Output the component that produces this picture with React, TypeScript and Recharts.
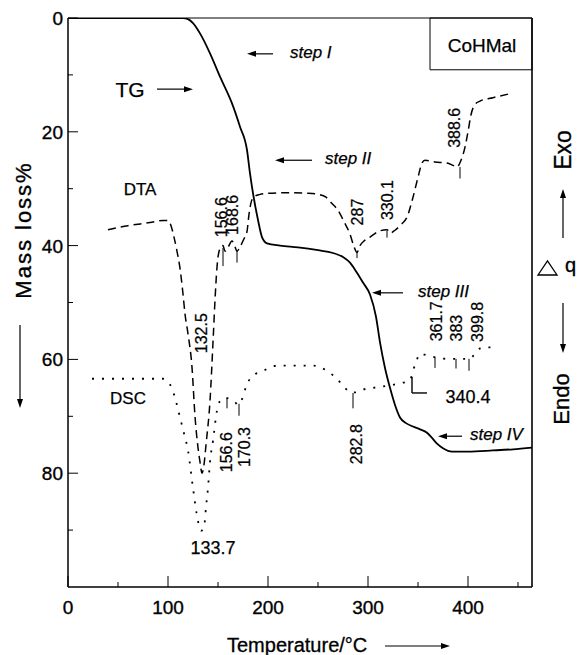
import React from 'react';
import { ComposedChart, Line, XAxis, YAxis, ReferenceLine, ReferenceDot, ReferenceArea } from 'recharts';

const FONT = '"Liberation Sans", Arial, Helvetica, sans-serif';

// TG curve: temperature (°C) and mass loss (%)
const tgTemp = [0, 50, 100, 115, 120, 125, 132, 142, 152, 164, 172, 179, 182, 185, 190, 194, 199, 212, 230, 250, 265, 275, 282, 288, 295, 302, 308, 312, 317, 322, 327, 332, 338, 345, 352, 359, 364, 369, 375, 384, 400, 425, 445, 464];
const tgMass = [0, 0, 0, 0, 0.2, 0.9, 2.7, 6.2, 10.3, 15, 19.1, 23.2, 27.3, 30.8, 35.5, 38.5, 39.6, 40, 40.3, 40.8, 41.3, 42, 43, 44.5, 46.5, 48.6, 52.5, 57, 61.5, 65, 68, 70.2, 71.2, 71.8, 72.3, 72.9, 73.8, 74.8, 75.6, 76.2, 76.2, 76, 75.8, 75.5];

// DTA trace (drawn in the same frame)
const dtaTemp = [40, 60, 80, 95, 100, 103, 106, 109, 112, 115, 117, 120, 124, 127, 130, 132, 134, 136, 138, 142, 145, 147, 149, 152, 155, 157, 160, 164, 167, 169, 172, 176, 179, 181, 183, 186, 192, 200, 220, 240, 250, 258, 264, 270, 276, 282, 286, 289, 292, 296, 302, 312, 319, 322, 327, 333, 339, 345, 350, 354, 357, 367, 379, 385, 389, 393, 397, 400, 403, 407, 412, 425, 442];
const dtaVal = [37.2, 36.5, 36, 35.6, 35.6, 36.5, 38.5, 41, 44, 48.5, 52, 55.5, 61.4, 70, 75.5, 78, 80, 78.5, 75, 67.3, 57, 49.6, 43.8, 40.5, 40, 41, 40.3, 39.2, 40.2, 41, 40.2, 38.8, 37.5, 34.5, 32.5, 31.4, 31, 30.8, 30.7, 30.8, 31, 31.5, 32.6, 33.8, 35.8, 38, 40.2, 41.2, 40, 39.2, 38.5, 37.4, 37.2, 37.8, 37.3, 36.3, 35, 31.5, 28, 25.5, 25, 25.3, 25.5, 25.9, 26.2, 25, 22.7, 20, 17, 15.2, 14.6, 14, 13.3];

// DSC trace
const dscTemp = [24, 50, 80, 95, 100, 104, 108, 112, 116, 120, 125, 130, 133, 136, 138, 140, 142, 145, 149, 152, 156, 159, 163, 167, 170, 172, 175, 178, 182, 188, 195, 209, 225, 245, 252, 259, 265, 272, 278, 282, 287, 295, 305, 320, 335, 342, 345, 348, 352, 359, 369, 380, 389, 402, 406, 409, 415, 429];
const dscVal = [63.4, 63.4, 63.4, 63.4, 64, 65.1, 67.4, 70.2, 73, 76, 82.6, 88.4, 90.1, 89.5, 86, 82.6, 78, 74.3, 69, 67.3, 66.8, 66.8, 67.1, 67.5, 68, 67.6, 66.6, 64.8, 63.4, 62.5, 62, 61.1, 61.1, 61.1, 61.4, 62, 62.8, 64, 65.2, 65.8, 65.8, 65.3, 65, 64.6, 64.1, 63.7, 62, 60.5, 59, 59.3, 59.7, 59.9, 59.9, 59.9, 59.2, 58.5, 57.9, 57.9];

const xTicks = [0, 50, 100, 150, 200, 250, 300, 350, 400, 450];
const xLabels = [0, 100, 200, 300, 400];
const yTicks = [0, 10, 20, 30, 40, 50, 60, 70, 80, 90];
const yLabels = [0, 20, 40, 60, 80];

// peak temperatures written beside the traces: label, anchor (t, y), marker segment
const peaks = [
  { label: '156.6', t: 154, y: 35.0, mark: [155, 40.4, 43.6] },
  { label: '168.6', t: 165, y: 34.6, mark: [169, 40.8, 43] },
  { label: '132.5', t: 134, y: 55.4, mark: null },
  { label: '287', t: 290, y: 34.1, mark: [289, 41, 42.2] },
  { label: '330.1', t: 320, y: 32.0, mark: [319, 37.4, 38.6] },
  { label: '388.6', t: 387, y: 19.3, mark: [392, 26.2, 28.2] },
  { label: '156.6', t: 159, y: 76.3, mark: [159, 66.8, 68.6] },
  { label: '170.3', t: 177, y: 75.4, mark: [171, 67.8, 69.9] },
  { label: '282.8', t: 289, y: 74.9, mark: [285, 65.9, 68.6] },
  { label: '361.7', t: 369, y: 53.3, mark: [367, 59.6, 61.5] },
  { label: '383', t: 389, y: 54.5, mark: [388, 59.9, 61.6] },
  { label: '399.8', t: 410, y: 53.4, mark: [401, 59.9, 62] },
];

// step annotations: text, arrow from/to temperature, level
const steps = [
  { label: 'step I', from: 205, to: 179, y: 6.3, tx: 222 },
  { label: 'step II', from: 244, to: 207, y: 25.0, tx: 257 },
  { label: 'step III', from: 335, to: 304, y: 48.3, tx: 350 },
  { label: 'step IV', from: 394, to: 370, y: 73.5, tx: 402 },
];

const zip = (ts: number[], vs: number[]) => ts.map((t, i) => ({ t, v: vs[i] }));
const tgData = zip(tgTemp, tgMass);
const dtaData = zip(dtaTemp, dtaVal);
const dscData = zip(dscTemp, dscVal);

const arrowShape = (p: any) => {
  const { x1, y1, x2, y2 } = p;
  const dx = x2 - x1, dy = y2 - y1;
  const len = Math.sqrt(dx * dx + dy * dy) || 1;
  const ux = dx / len, uy = dy / len;
  const hl = 9, hw = 3;
  const bx = x2 - ux * hl, by = y2 - uy * hl;
  return (
    <g>
      <line x1={x1} y1={y1} x2={bx} y2={by} stroke="#000" strokeWidth={1.2} />
      <polygon points={`${x2},${y2} ${bx - uy * hw},${by + ux * hw} ${bx + uy * hw},${by - ux * hw}`} fill="#000" />
    </g>
  );
};

const textShape = (text: string, size: number, opt: { rotate?: boolean; italic?: boolean; anchor?: string } = {}) => (p: any) => (
  <text
    x={p.cx}
    y={p.cy}
    transform={opt.rotate ? `rotate(-90 ${p.cx} ${p.cy})` : undefined}
    textAnchor={opt.anchor || 'middle'}
    dominantBaseline="central"
    fontSize={size}
    fontStyle={opt.italic ? 'italic' : 'normal'}
    fontFamily={FONT}
    fill="#000"
    stroke="#000"
    strokeWidth={0.25}
  >
    {text}
  </text>
);

const XTick = (props: any) => {
  const { x, y, payload } = props;
  const major = xLabels.includes(payload.value);
  return (
    <g>
      <line x1={x} y1={y} x2={x} y2={y - (major ? 11 : 5)} stroke="#000" />
      {major && (
        <text x={x} y={y + 27} textAnchor="middle" fontSize={19} fontFamily={FONT} fill="#000" stroke="#000" strokeWidth={0.35}>
          {payload.value}
        </text>
      )}
    </g>
  );
};

const YTick = (props: any) => {
  const { x, y, payload } = props;
  const major = yLabels.includes(payload.value);
  return (
    <g>
      <line x1={x} y1={y} x2={x + (major ? 10 : 5)} y2={y} stroke="#000" />
      {major && (
        <text x={x - 5} y={y + 7} textAnchor="end" fontSize={19} fontFamily={FONT} fill="#000" stroke="#000" strokeWidth={0.35}>
          {payload.value}
        </text>
      )}
    </g>
  );
};

export default function App() {
  return (
    <div style={{ position: 'absolute', left: 0, top: 0, width: 582, height: 655, background: '#fff' }}>
      <ComposedChart width={582} height={655} margin={{ top: 18, right: 50, bottom: 38, left: 0 }}>
        <XAxis
          type="number"
          dataKey="t"
          domain={[0, 464]}
          ticks={xTicks}
          tick={<XTick />}
          tickSize={0}
          tickMargin={0}
          tickLine={false}
          height={30}
          axisLine={{ stroke: '#000', strokeWidth: 1.5 }}
          allowDataOverflow
        />
        <YAxis
          type="number"
          domain={[0, 100]}
          reversed
          ticks={yTicks}
          tick={<YTick />}
          tickSize={0}
          tickMargin={0}
          tickLine={false}
          width={68}
          axisLine={{ stroke: '#000', strokeWidth: 1.5 }}
          allowDataOverflow
        />
        <ReferenceLine y={0} stroke="#000" strokeWidth={1} />
        <ReferenceLine x={464} stroke="#000" strokeWidth={1.6} />
        <ReferenceArea x1={362} x2={464} y1={0} y2={9.1} fill="none" stroke="#000" strokeWidth={1} />
        <ReferenceDot x={414} y={4.9} r={1} shape={textShape('CoHMal', 19)} />

        <Line data={tgData} dataKey="v" type="monotone" stroke="#000" strokeWidth={1.8} dot={false} activeDot={false} isAnimationActive={false} />
        <Line data={dtaData} dataKey="v" type="monotone" stroke="#000" strokeWidth={1.5} strokeDasharray="8 5" dot={false} activeDot={false} isAnimationActive={false} />
        <Line data={dscData} dataKey="v" type="monotone" stroke="#000" strokeWidth={1.8} strokeDasharray="2 8" dot={false} activeDot={false} isAnimationActive={false} />

        <ReferenceDot x={62} y={12.5} r={1} shape={textShape('TG', 21)} />
        <ReferenceLine segment={[{ x: 89, y: 12.5 }, { x: 125, y: 12.5 }]} shape={arrowShape} />
        <ReferenceDot x={72} y={30.2} r={1} shape={textShape('DTA', 17)} />
        <ReferenceDot x={60} y={66.8} r={1} shape={textShape('DSC', 17)} />

        {steps.map((s, i) => (
          <ReferenceLine key={'sa' + i} segment={[{ x: s.from, y: s.y }, { x: s.to, y: s.y }]} shape={arrowShape} />
        ))}
        {steps.map((s, i) => (
          <ReferenceDot key={'st' + i} x={s.tx} y={s.y - 0.3} r={1} shape={textShape(s.label, 17, { italic: true, anchor: 'start' })} />
        ))}

        {peaks.map((p, i) => (
          <ReferenceDot key={'pl' + i} x={p.t} y={p.y} r={1} shape={textShape(p.label, 16, { rotate: true })} />
        ))}
        {peaks.filter((p) => p.mark).map((p, i) => (
          <ReferenceLine key={'pm' + i} segment={[{ x: p.mark![0], y: p.mark![1] }, { x: p.mark![0], y: p.mark![2] }]} stroke="#000" strokeWidth={1} />
        ))}
        <ReferenceDot x={145} y={93.1} r={1} shape={textShape('133.7', 18)} />
        <ReferenceDot x={400} y={66.6} r={1} shape={textShape('340.4', 18)} />
        <ReferenceLine segment={[{ x: 344, y: 63.1 }, { x: 344, y: 65.9 }]} stroke="#000" strokeWidth={1.4} />
        <ReferenceLine segment={[{ x: 344, y: 65.9 }, { x: 359, y: 65.9 }]} stroke="#000" strokeWidth={1.4} />
      </ComposedChart>

      <svg width={582} height={655} style={{ position: 'absolute', left: 0, top: 0, pointerEvents: 'none' }}>
        <text x={31} y={230} transform="rotate(-90 31 230)" textAnchor="middle" fontSize={22} letterSpacing={2} fontFamily={FONT} stroke="#000" strokeWidth={0.35}>
          Mass loss%
        </text>
        {arrowShape({ x1: 20, y1: 325, x2: 20, y2: 408 })}
        <text x={227} y={652} fontSize={20} fontFamily={FONT} stroke="#000" strokeWidth={0.3}>
          Temperature/°C
        </text>
        {arrowShape({ x1: 385, y1: 646, x2: 450, y2: 646 })}
        <text x={571} y={150} transform="rotate(-90 571 150)" textAnchor="middle" fontSize={23} fontFamily={FONT} stroke="#000" strokeWidth={0.35}>
          Exo
        </text>
        {arrowShape({ x1: 563, y1: 238, x2: 563, y2: 189 })}
        <polygon points="538,275 547.5,261 557,275" fill="none" stroke="#000" strokeWidth={1.3} />
        <text x={565} y={272} fontSize={20} fontFamily={FONT} stroke="#000" strokeWidth={0.3}>
          q
        </text>
        {arrowShape({ x1: 563, y1: 303, x2: 563, y2: 353 })}
        <text x={569} y={399} transform="rotate(-90 569 399)" textAnchor="middle" fontSize={22} fontFamily={FONT} stroke="#000" strokeWidth={0.35}>
          Endo
        </text>
      </svg>
    </div>
  );
}
